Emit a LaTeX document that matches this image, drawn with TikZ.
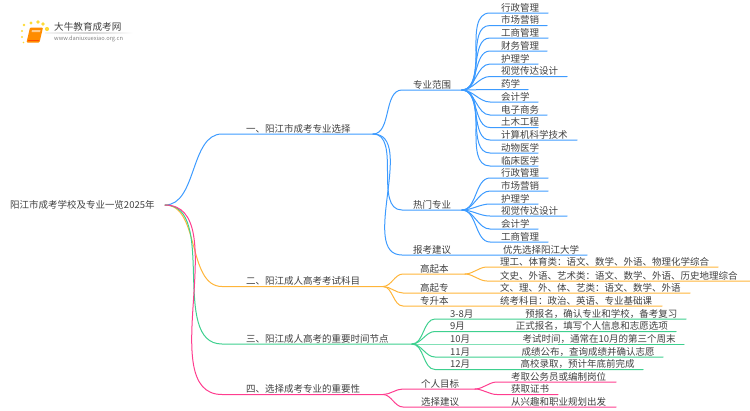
\documentclass[tikz,border=0pt]{standalone}
\usepackage{fontspec}
\setmainfont{Noto Sans CJK SC}
\usetikzlibrary{calc}
\definecolor{cblue}{HTML}{3D9BFF}
\definecolor{corange}{HTML}{FFB53A}
\definecolor{cgreen}{HTML}{3ED08F}
\definecolor{cpink}{HTML}{FF3D8F}
\definecolor{ctext}{HTML}{404040}
\tikzset{
  x=1pt,y=-1pt,
  topic/.style={anchor=south west,inner sep=0pt,outer sep=0pt,align=left,font=\fontsize{9.5pt}{11pt}\selectfont,
    text=ctext,text height=8.5pt,text depth=1.7pt},
  link/.style={line width=1pt,line cap=round,line join=round},
  soft/.style={out=0,in=180,looseness=0.9}
}
% name, parent point, colour, x0, y, xend, xtext, text
\newcommand{\branch}[8]{%
  \pgfmathsetmacro{\bw}{#6-#4}\pgfmathsetmacro{\bo}{#7-#4}%
  \node[topic,text width=\bw pt] (#1) at (#4,#5) {\hspace*{\bo pt}#8};
  \draw[link,#3] (#2) to[soft] (#1.south west) -- (#1.south east);
}
\begin{document}
\begin{tikzpicture}
\useasboundingbox (0,0) rectangle (750,410);
% logo
\foreach \px/\py/\pr in {24/25/1.3,31/23/1.7,38/22/1.8,43/24/1.8,47/29/2.1,22/31/1.2,22/37/1.1,23.5/42.5/0.9}
  \fill[yellow!70!orange,opacity=.8] (\px,\py) circle (\pr);
\fill[orange!90!yellow,rounded corners=1pt] (30,27.5) -- (43,27.5) -- (39.5,42.5) -- (26.5,42.5) -- cycle;
\draw[orange!60!red,line width=.6pt] (27.5,40.5) -- (39,40.5);
\fill[white,opacity=.55] (32,30) -- (40.5,30) -- (40,32) -- (31.6,32) -- cycle;
\shade[left color=gray!8,right color=white,middle color=gray!35] (45,32.6) rectangle (133,33.4);
\node[anchor=west,inner sep=0pt,text=ctext,font=\fontsize{9.6pt}{11pt}\selectfont] (logoname) at (54,27) {大牛教育成考网};
\node[anchor=west,inner sep=0pt,text=gray,font=\fontsize{5.7pt}{7pt}\selectfont] (logourl) at (54,38.7) {www.daniuxuexiao.org.cn};
% root
\node[anchor=west,inner sep=0pt,outer sep=0pt,text width=155pt,align=left,text=ctext,font=\fontsize{9.5pt}{11pt}\selectfont] (root) at (10,205) {阳江市成考学校及专业一览2025年};
% level 1
\branch{a}{root.east}{cblue}{222}{134}{373}{246}{一、阳江市成考专业选择}
\branch{b}{root.east}{corange}{222}{286.5}{383}{246}{二、阳江成人高考考试科目}
\branch{c}{root.east}{cgreen}{222}{344}{412}{246}{三、阳江成人高考的重要时间节点}
\branch{d}{root.east}{cpink}{222}{394.5}{383}{246}{四、选择成考专业的重要性}
% a
\branch{a1}{a.south east}{cblue}{402}{90}{462}{413}{专业范围}
\branch{a2}{a.south east}{cblue}{402}{210}{462}{413}{热门专业}
\branch{a3}{a.south east}{cblue}{402}{255}{587}{413}{报考建议\hspace{52pt}优先选择阳江大学}
\branch{a11}{a1.south east}{cblue}{490}{13}{548}{501}{行政管理}
\branch{a12}{a1.south east}{cblue}{490}{25.5}{547}{501}{市场营销}
\branch{a13}{a1.south east}{cblue}{490}{38}{548}{501}{工商管理}
\branch{a14}{a1.south east}{cblue}{490}{51}{547}{501}{财务管理}
\branch{a15}{a1.south east}{cblue}{490}{64}{538}{501}{护理学}
\branch{a16}{a1.south east}{cblue}{490}{76.5}{567}{501}{视觉传达设计}
\branch{a17}{a1.south east}{cblue}{490}{89.5}{528}{501}{药学}
\branch{a18}{a1.south east}{cblue}{490}{102}{538}{501}{会计学}
\branch{a19}{a1.south east}{cblue}{490}{115}{547}{501}{电子商务}
\branch{a110}{a1.south east}{cblue}{490}{127.5}{538}{501}{土木工程}
\branch{a111}{a1.south east}{cblue}{490}{140}{577}{501}{计算机科学技术}
\branch{a112}{a1.south east}{cblue}{490}{153}{538}{501}{动物医学}
\branch{a113}{a1.south east}{cblue}{490}{166}{538}{501}{临床医学}
\branch{a21}{a2.south east}{cblue}{490}{178}{548}{501}{行政管理}
\branch{a22}{a2.south east}{cblue}{490}{191}{548}{501}{市场营销}
\branch{a23}{a2.south east}{cblue}{490}{204}{538}{501}{护理学}
\branch{a24}{a2.south east}{cblue}{490}{216}{567}{501}{视觉传达设计}
\branch{a25}{a2.south east}{cblue}{490}{229}{538}{501}{会计学}
\branch{a26}{a2.south east}{cblue}{490}{242}{548}{501}{工商管理}
% b
\branch{b1}{b.south east}{corange}{403}{274}{465}{420}{高起本}
\branch{b2}{b.south east}{corange}{403}{293}{690}{420}{高起专\hspace{51.5pt}文、理、外、体、艺类：语文、数学、外语}
\branch{b3}{b.south east}{corange}{403}{306}{662}{420}{专升本\hspace{51.5pt}统考科目：政治、英语、专业基础课}
\branch{b11}{b1.south east}{corange}{487}{267}{718}{500}{理工、体育类：语文、数学、外语、物理化学综合}
\branch{b12}{b1.south east}{corange}{487}{281}{750}{500}{文史、外语、艺术类：语文、数学、外语、历史地理综合}
% c
\branch{c1}{c.south east}{cgreen}{435}{319}{686}{450}{3-8月\hspace{52pt}预报名，确认专业和学校，备考复习}
\branch{c2}{c.south east}{cgreen}{435}{331.5}{676}{450}{9月\hspace{51pt}正式报名，填写个人信息和志愿选项}
\branch{c3}{c.south east}{cgreen}{435}{344}{684}{450}{10月\hspace{52.5pt}考试时间，通常在10月的第三个周末}
\branch{c4}{c.south east}{cgreen}{435}{357}{663}{450}{11月\hspace{51.5pt}成绩公布，查询成绩并确认志愿}
\branch{c5}{c.south east}{cgreen}{435}{369.5}{643}{450}{12月\hspace{50.5pt}高校录取，预计年底前完成}
% d
\branch{d1}{d.south east}{cpink}{403}{389}{475}{421}{个人目标}
\branch{d2}{d.south east}{cpink}{403}{407}{616}{421}{选择建议\hspace{52pt}从兴趣和职业规划出发}
\branch{d11}{d1.south east}{cpink}{497}{382}{616}{511}{考取公务员或编制岗位}
\branch{d12}{d1.south east}{cpink}{497}{394.5}{558}{511}{获取证书}
\end{tikzpicture}
\end{document}
